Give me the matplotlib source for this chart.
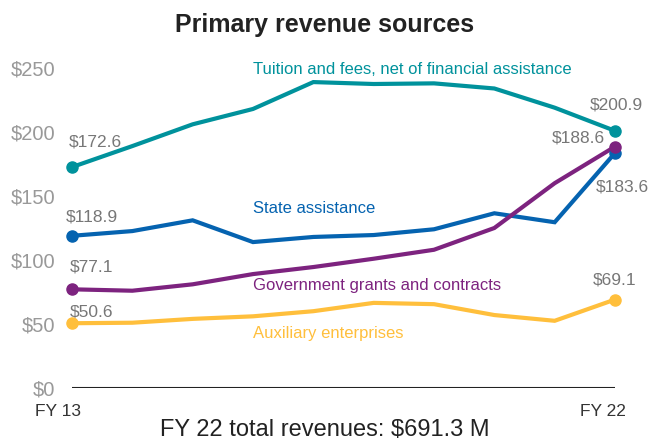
import matplotlib
matplotlib.use("Agg")
import matplotlib.pyplot as plt

plt.rcParams['font.family'] = ['Liberation Sans', 'DejaVu Sans']

# -----------------------------------------------------
# Data (millions of dollars, FY 13 .. FY 22)
# -----------------------------------------------------
years = ["FY 13", "FY 14", "FY 15", "FY 16", "FY 17",
         "FY 18", "FY 19", "FY 20", "FY 21", "FY 22"]

tuition = [172.6, 189, 206, 218, 239, 237.5, 238, 234, 219, 200.9]
state = [118.9, 122.6, 131, 114, 118, 119.5, 124, 136.5, 129.5, 183.6]
grants = [77.1, 76, 81, 89, 94.5, 101, 108, 125, 160, 188.6]
auxiliary = [50.6, 51, 54, 56, 60, 66.5, 65.5, 57, 52.5, 69.1]

series_names = ["Tuition and fees, net of financial assistance",
                "State assistance",
                "Government grants and contracts",
                "Auxiliary enterprises"]

y_ticks = [0, 50, 100, 150, 200, 250]
title = "Primary revenue sources"
footer = "FY 22 total revenues: $691.3 M"

# -----------------------------------------------------
# Styles
# -----------------------------------------------------
colors = ["#00929c", "#0563b0", "#7d237f", "#ffbf3c"]
all_series = [tuition, state, grants, auxiliary]

# label position of each series name (x in data index, y in data value)
name_pos = [(3, 249), (3, 140.6), (3, 79.7), (3, 42.2)]

# pixel offsets (dx, dy) of first / last value labels from their point
first_off = [(23, 25), (20, 19), (20, 22), (20, 11)]
last_off = [(1, 26), (7, -34), (-37, 9), (0, 20)]

W, H = 649, 443
fig = plt.figure(figsize=(W / 100, H / 100), dpi=100)
ax = fig.add_axes([72 / W, (H - 388) / H, 543 / W, 320 / H])

x = list(range(len(years)))
px = 72 / 100  # points per pixel

for vals, col, name, npos, fo, lo in zip(all_series, colors, series_names,
                                         name_pos, first_off, last_off):
    ax.plot(x, vals, color=col, lw=3, solid_joinstyle="miter",
            clip_on=False, zorder=3)
    ax.plot([x[0], x[-1]], [vals[0], vals[-1]], "o", color=col, ms=8,
            clip_on=False, zorder=4)
    ax.text(npos[0], npos[1], name, color=col, fontsize=12,
            ha="left", va="center")
    ax.annotate(f"${vals[0]:.1f}", (x[0], vals[0]),
                xytext=(fo[0] * px, fo[1] * px), textcoords="offset points",
                ha="center", va="center", fontsize=12.5, color="#777777")
    ax.annotate(f"${vals[-1]:.1f}", (x[-1], vals[-1]),
                xytext=(lo[0] * px, lo[1] * px), textcoords="offset points",
                ha="center", va="center", fontsize=12.5, color="#777777")

ax.set_xlim(0, len(years) - 1)
ax.set_ylim(0, 250)
ax.axhline(0, color="#222222", lw=1.5, zorder=2)

ax.set_yticks(y_ticks)
ax.set_yticklabels([f"${v}" for v in y_ticks])
ax.tick_params(axis="y", length=0, pad=12, labelsize=14.5, labelcolor="#999999")
ax.set_xticks([])
for s in ax.spines.values():
    s.set_visible(False)

# first and last year labels
ax.annotate(years[0], (x[0], 0), xytext=(-14 * px, -24 * px),
            textcoords="offset points", ha="center", va="center",
            fontsize=12.5, color="#333333")
ax.annotate(years[-1], (x[-1], 0), xytext=(-12 * px, -24 * px),
            textcoords="offset points", ha="center", va="center",
            fontsize=12.5, color="#333333")

fig.text(0.5, 1 - 25 / H, title, ha="center", va="center",
         fontsize=18, fontweight="bold", color="#222222")
fig.text(0.5, 1 - 430 / H, footer, ha="center", va="center",
         fontsize=17, color="#222222")

fig.savefig("out.png", dpi=100)
